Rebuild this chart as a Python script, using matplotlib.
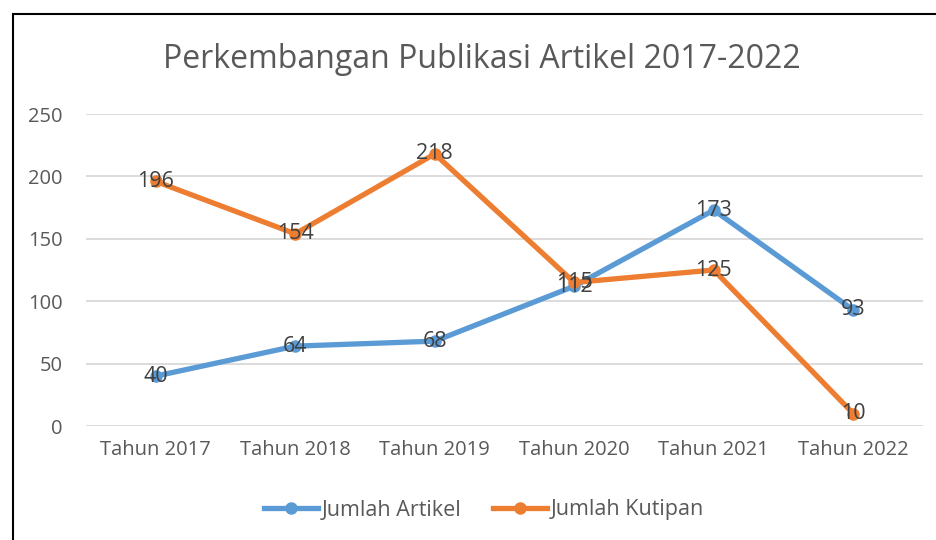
import matplotlib.pyplot as plt
from matplotlib.patches import Rectangle

# Data
tahun = ['Tahun 2017', 'Tahun 2018', 'Tahun 2019', 'Tahun 2020', 'Tahun 2021', 'Tahun 2022']
jumlah_artikel = [40, 64, 68, 112, 173, 93]
jumlah_kutipan = [196, 154, 218, 115, 125, 10]

biru = '#5B9BD5'
oranye = '#ED7D31'
abu = '#595959'

plt.rcParams['font.family'] = ['Open Sans', 'DejaVu Sans']

fig = plt.figure(figsize=(9.36, 5.4), dpi=100)
ax = fig.add_axes([86 / 936, 1 - 426 / 540, (923 - 86) / 936, (426 - 114) / 540])

x = list(range(len(tahun)))
ax.plot(x, jumlah_artikel, color=biru, linewidth=3.8, marker='o', markersize=8,
        label='Jumlah Artikel', zorder=3)
ax.plot(x, jumlah_kutipan, color=oranye, linewidth=3.8, marker='o', markersize=8,
        label='Jumlah Kutipan', zorder=3)

# Label data di tengah titik
for xi, v in zip(x, jumlah_artikel):
    ax.text(xi, v, str(v), ha='center', va='center', fontsize=15.5, color='#404040', zorder=4)
for xi, v in zip(x, jumlah_kutipan):
    ax.text(xi, v, str(v), ha='center', va='center', fontsize=15.5, color='#404040', zorder=4)

ax.set_xlim(-0.5, len(tahun) - 0.5)
ax.set_ylim(0, 250)
ax.set_yticks(range(0, 251, 50))
ax.set_xticks(x)
ax.set_xticklabels(tahun)
ax.tick_params(axis='both', length=0, labelsize=14.5, colors=abu)
ax.tick_params(axis='x', pad=10)
ax.tick_params(axis='y', pad=17)
ax.grid(axis='y', color='#D9D9D9', linewidth=1.3)
ax.set_axisbelow(True)
for s in ax.spines.values():
    s.set_visible(False)

fig.text(482 / 936, 1 - 60 / 540, 'Perkembangan Publikasi Artikel 2017-2022',
         ha='center', va='center', fontsize=23, color=abu)

fig.legend(loc='center', bbox_to_anchor=(484 / 936, 1 - 510 / 540), ncol=2, frameon=False,
           fontsize=15.5, labelcolor=abu, handlelength=2.5, columnspacing=1.5, handletextpad=0.15)

# Bingkai grafik
fig.patches.append(Rectangle((13 / 936, -0.05), 1.0, 1 - 14 / 540 + 0.05,
                             transform=fig.transFigure, fill=False, edgecolor='black',
                             linewidth=1.5))

fig.savefig('out.png', dpi=100)
